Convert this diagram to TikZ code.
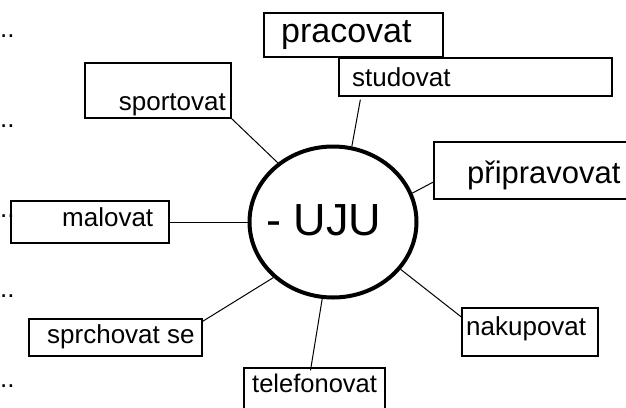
\documentclass[tikz,border=0pt]{standalone}
\usepackage{fontspec}
\setmainfont{Liberation Sans}
\usetikzlibrary{shapes.geometric}

\begin{document}
\begin{tikzpicture}[x=1pt, y=-1pt,
    box/.style={draw, line width=1.3pt, inner sep=0pt},
    word/.style={inner sep=0pt, font=\fontsize{26}{30}\selectfont},
    link/.style={line width=1pt}]
  \useasboundingbox (0,0) rectangle (626,407);

  % Dots at the left edge
  \node[word, anchor=base west] (dotsa) at (0, 37.5) {..};
  \node[word, anchor=base west] (dotsb) at (0, 127.5) {..};
  \node[word, anchor=base west] (dotsc) at (0, 217.5) {..};
  \node[word, anchor=base west] (dotsd) at (0, 297.5) {..};
  \node[word, anchor=base west] (dotse) at (0, 387.5) {..};

  % Centre
  \node[draw, ellipse, line width=4pt, inner sep=0pt,
        minimum width=167pt, minimum height=151pt] (uju) at (333,222) {};
  \node[word, font=\fontsize{45}{50}\selectfont, anchor=base west]
    (tuju) at (266,235) {- UJU};

  % Boxes
  \node[box, minimum width=179pt, minimum height=44pt] (prac) at (353.5,35) {};
  \node[box, minimum width=273pt, minimum height=38pt] (stud) at (475.5,77) {};
  \node[box, minimum width=146pt, minimum height=55pt] (sport) at (158,90.5) {};
  \node[box, minimum width=194pt, minimum height=57pt] (prip) at (531,170.5) {};
  \node[box, minimum width=158pt, minimum height=42pt] (mal) at (90,222) {};
  \node[box, minimum width=173pt, minimum height=37pt] (sprch) at (115.5,337.5) {};
  \node[box, minimum width=141pt, minimum height=42pt] (tel) at (314.5,389) {};
  \node[box, minimum width=136pt, minimum height=48pt] (nak) at (530,332) {};

  % Words
  \node[word, font=\fontsize{34}{38}\selectfont, anchor=base west]
    (tprac) at (281,42) {pracovat};
  \node[word, anchor=base west] (tstud) at (352,86) {studovat};
  \node[word, anchor=base east] (tsport) at (226,110) {sportovat};
  \node[word, font=\fontsize{31}{35}\selectfont, anchor=base west]
    (tprip) at (467,183) {připravovat};
  \node[word, anchor=base west] (tmal) at (62,226) {malovat};
  \node[word, anchor=base west] (tsprch) at (47,343) {sprchovat se};
  \node[word, font=\fontsize{25.5}{30}\selectfont, anchor=base west]
    (ttel) at (252,392) {telefonovat};
  \node[word, anchor=base west] (tnak) at (466,335) {nakupovat};

  % Connectors
  \draw[link] (sport.south east) -- (uju.133);
  \draw[link] ([xshift=22pt, yshift=-3pt]stud.south west) -- (uju.76);
  \draw[link] ([yshift=-11.5pt]prip.west) -- (uju.20.6);
  \draw[link] (mal.east) -- (uju.180);
  \draw[link] ([yshift=-3pt]sprch.north east) -- (uju.223);
  \draw[link] ([xshift=-4pt, yshift=-3pt]tel.north) -- (uju.262);
  \draw[link] ([yshift=15pt]nak.west) -- (uju.325);
\end{tikzpicture}
\end{document}
